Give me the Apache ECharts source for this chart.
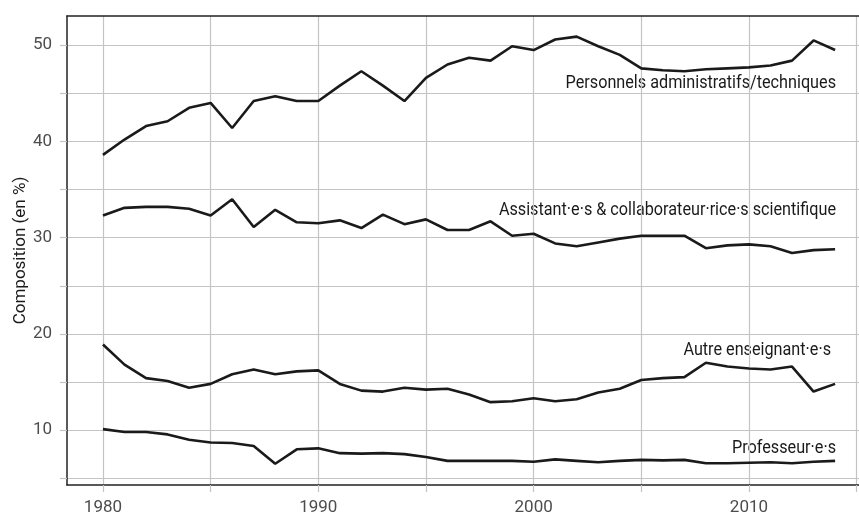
<!DOCTYPE html>
<html>
<head>
<meta charset="utf-8">
<script src="https://cdn.jsdelivr.net/npm/echarts@6/dist/echarts.min.js"></script>
<style>
  html, body { margin: 0; padding: 0; background: #fff; }
  #main { width: 859px; height: 514px; }
</style>
</head>
<body>
<div id="main"></div>
<script>
// années 1980 - 2014
var years = [];
for (var y = 1980; y <= 2014; y++) years.push(y);

var personnels = [38.6, 40.2, 41.6, 42.1, 43.5, 44.0, 41.4, 44.2, 44.7, 44.2,
  44.2, 45.8, 47.3, 45.8, 44.2, 46.6, 48.0, 48.7, 48.4, 49.9,
  49.5, 50.6, 50.9, 49.9, 49.0, 47.6, 47.4, 47.3, 47.5, 47.6,
  47.7, 47.9, 48.4, 50.5, 49.5];
var assistants = [32.3, 33.1, 33.2, 33.2, 33.0, 32.3, 34.0, 31.1, 32.9, 31.6,
  31.5, 31.8, 31.0, 32.4, 31.4, 31.9, 30.8, 30.8, 31.7, 30.2,
  30.4, 29.4, 29.1, 29.5, 29.9, 30.2, 30.2, 30.2, 28.9, 29.2,
  29.3, 29.1, 28.4, 28.7, 28.8];
var autres = [18.9, 16.8, 15.4, 15.1, 14.4, 14.8, 15.8, 16.3, 15.8, 16.1,
  16.2, 14.8, 14.1, 14.0, 14.4, 14.2, 14.3, 13.7, 12.9, 13.0,
  13.3, 13.0, 13.2, 13.9, 14.3, 15.2, 15.4, 15.5, 17.0, 16.6,
  16.4, 16.3, 16.6, 14.0, 14.8];
var professeurs = [10.1, 9.8, 9.8, 9.55, 9.0, 8.7, 8.65, 8.35, 6.5, 8.0,
  8.1, 7.6, 7.55, 7.6, 7.5, 7.2, 6.8, 6.8, 6.8, 6.8,
  6.7, 6.95, 6.8, 6.65, 6.8, 6.9, 6.85, 6.9, 6.55, 6.55,
  6.6, 6.65, 6.55, 6.7, 6.8];

var xTicks = [1980, 1985, 1990, 1995, 2000, 2005, 2010, 2015];
var xLabels = [1980, 1990, 2000, 2010];
var yTicks = [5, 10, 15, 20, 25, 30, 35, 40, 45, 50];
var yLabels = [10, 20, 30, 40, 50];

var names = ['Personnels administratifs/techniques',
  'Assistant·e·s & collaborateur·rice·s scientifique',
  'Autre enseignant·e·s',
  'Professeur·e·s'];

var FONT = 'Roboto, sans-serif';
var GRID_C = '#c4c4c4';

function pairs(vals) {
  return years.map(function (yr, i) { return [yr, vals[i]]; });
}

function lineSeries(name, vals) {
  return {
    name: name,
    type: 'line',
    data: pairs(vals),
    showSymbol: false,
    symbol: 'none',
    lineStyle: { color: '#1a1a1a', width: 2.6 },
    silent: true,
    animation: false
  };
}

// étiquettes en police étroite (simulée par scaleX)
function seriesLabel(text, x, y) {
  return {
    type: 'text', x: x, y: y, scaleX: 0.9,
    style: { text: text, align: 'right', verticalAlign: 'middle', fontSize: 18, fontFamily: FONT, fill: '#1a1a1a' }
  };
}

var chart = echarts.init(document.getElementById('main'));

var option = {
  backgroundColor: '#fff',
  animation: false,
  grid: { left: 67, right: 0, top: 16, bottom: 29, outerBoundsMode: 'none', containLabel: false },
  xAxis: [{
    type: 'value',
    min: 1978.33,
    max: 2015.11,
    axisLine: { show: true, lineStyle: { color: '#222', width: 1.5 } },
    axisTick: { show: true, length: 7, customValues: xTicks, lineStyle: { color: GRID_C, width: 1.2 } },
    axisLabel: {
      customValues: xLabels, color: '#4d4d4d', fontSize: 17, fontFamily: FONT, margin: 14,
      formatter: function (v) { return String(v); }
    },
    splitLine: { show: true, lineStyle: { color: GRID_C, width: 1.2 } }
  }, {
    type: 'value',
    position: 'top',
    min: 1978.33,
    max: 2015.11,
    axisLine: { show: true, lineStyle: { color: '#222', width: 1.5 } },
    axisTick: { show: false },
    axisLabel: { show: false },
    splitLine: { show: false }
  }],
  yAxis: {
    type: 'value',
    min: 4.29,
    max: 53.04,
    name: 'Composition (en %)',
    nameLocation: 'middle',
    nameGap: 38,
    nameMoveOverlap: false,
    nameTextStyle: { color: '#1a1a1a', fontSize: 17, fontFamily: FONT },
    axisLine: { show: true, lineStyle: { color: '#222', width: 1.5 } },
    axisTick: { show: true, length: 7, customValues: yTicks, lineStyle: { color: GRID_C, width: 1.2 } },
    axisLabel: { customValues: yLabels, color: '#4d4d4d', fontSize: 17, fontFamily: FONT, margin: 15 },
    splitLine: { show: true, lineStyle: { color: GRID_C, width: 1.2 } }
  },
  series: [
    lineSeries(names[0], personnels),
    lineSeries(names[1], assistants),
    lineSeries(names[2], autres),
    lineSeries(names[3], professeurs)
  ],
  graphic: [
    seriesLabel(names[0], 836, 83),
    seriesLabel(names[1], 836, 210),
    seriesLabel(names[2], 831, 350),
    seriesLabel(names[3], 836, 448)
  ]
};

chart.setOption(option);
</script>
</body>
</html>
